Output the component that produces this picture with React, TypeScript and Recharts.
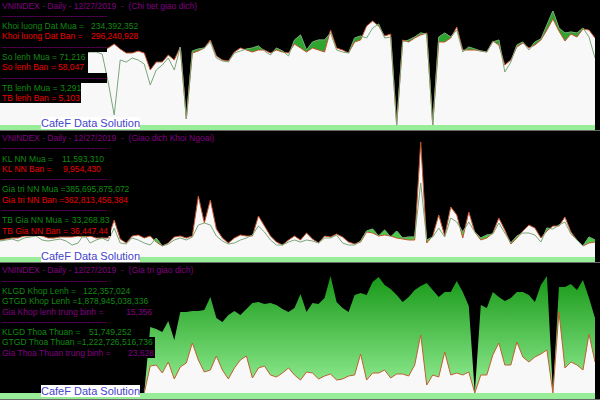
import React from 'react';
import { ComposedChart, Area, Line, XAxis, YAxis } from 'recharts';

// index of trading sessions (x positions)
const sessions = Array.from({ length: 100 }, (_, i) => i);

// Panel 1 - Chi tiet giao dich (relative heights)
const p1Mua = [
  72, 70, 71, 73, 70, 73, 75, 70, 71, 74,
  73, 69, 72, 75, 72, 73, 73, 71, 43, 10,
  65, 63, 67, 65, 61, 40, 55, 60, 67, 55,
  78, 6, 74, 76, 77, 83, 67, 64, 63, 72,
  74, 76, 77, 79, 74, 70, 77, 74, 69, 85,
  90, 75, 83, 85, 85, 92, 75, 73, 72, 87,
  89, 87, 97, 101, 87, 88, 0, 83, 85, 88,
  92, 91, 0, 88, 92, 88, 95, 73, 78, 76,
  74, 73, 83, 85, 53, 63, 80, 83, 75, 83,
  86, 100, 114, 97, 92, 93, 92, 97, 88, 67,
];
const p1Ban = [
  70, 71, 73, 69, 72, 75, 71, 68, 73, 75,
  72, 70, 74, 76, 73, 75, 75, 75, 77, 81,
  76, 72, 72, 74, 72, 55, 63, 63, 70, 65,
  78, 6, 72, 74, 77, 85, 69, 65, 64, 73,
  77, 75, 73, 75, 75, 72, 75, 73, 72, 81,
  77, 73, 77, 75, 73, 95, 77, 75, 72, 83,
  85, 99, 104, 99, 89, 91, 0, 85, 83, 87,
  90, 92, 0, 83, 83, 87, 98, 75, 75, 75,
  74, 73, 84, 80, 60, 65, 78, 82, 77, 80,
  85, 95, 106, 94, 84, 91, 88, 96, 95, 87,
];

// Panel 2 - Giao dich Khoi Ngoai
const p2Mua = [
  16, 17, 18, 16, 19, 20, 21, 17, 16, 17,
  18, 16, 12, 14, 23, 14, 17, 19, 16, 29,
  14, 13, 19, 17, 14, 12, 19, 11, 13, 17,
  19, 17, 20, 32, 34, 32, 21, 16, 13, 14,
  17, 19, 22, 31, 25, 17, 12, 12, 15, 17,
  15, 17, 16, 14, 19, 19, 22, 14, 12, 12,
  16, 26, 28, 21, 27, 20, 26, 19, 20, 20,
  74, 17, 20, 29, 20, 39, 35, 25, 35, 25,
  19, 22, 23, 34, 24, 14, 21, 24, 24, 22,
  15, 29, 28, 32, 35, 23, 17, 11, 20, 17,
];
const p2Ban = [
  17, 18, 19, 19, 21, 21, 22, 21, 19, 19,
  20, 20, 20, 21, 20, 21, 19, 19, 19, 37,
  18, 14, 21, 22, 19, 21, 15, 11, 14, 20,
  21, 19, 21, 61, 34, 57, 28, 19, 14, 19,
  22, 21, 21, 41, 31, 21, 15, 12, 17, 21,
  17, 24, 18, 14, 21, 20, 23, 20, 15, 13,
  15, 25, 24, 21, 22, 21, 19, 18, 17, 17,
  115, 14, 21, 42, 21, 50, 42, 19, 45, 25,
  17, 19, 24, 39, 27, 13, 19, 26, 32, 29,
  19, 26, 31, 31, 40, 25, 17, 11, 14, 15,
];

// Panel 3 - Gia tri giao dich
const p3Khop = [
  null, null, null, null, null, null, null, null, null, null,
  null, null, null, null, null, null, null, null, null, null,
  null, null, null, null, 0, 66, 64, 61, 72, 53,
  81, 81, 82, 82, 83, 96, 75, 71, 78, 82,
  78, 84, 90, 91, 89, 90, 88, 84, 81, 85,
  99, 81, 90, 89, 95, 117, 91, 85, 81, 98,
  100, 98, 111, 116, 108, 104, 98, 91, 96, 103,
  107, 110, 103, 96, 101, 101, 112, 101, 87, 0,
  88, 85, 101, 96, 92, 95, 101, 101, 98, 91,
  108, 117, 0, 106, 106, 109, 103, 113, 95, 75,
];
const p3Thoa = [
  null, null, null, null, null, null, null, null, null, null,
  null, null, null, null, null, null, null, null, null, null,
  null, null, null, null, 0, 27, 28, 20, 31, 14,
  26, 30, 50, 33, 21, 23, 37, 23, 14, 25,
  33, 37, 15, 25, 27, 18, 16, 20, 25, 18,
  13, 21, 20, 14, 17, 19, 13, 14, 17, 18,
  39, 13, 20, 20, 23, 15, 19, 19, 17, 28,
  58, 8, 18, 16, 41, 18, 20, 18, 21, 0,
  18, 18, 38, 50, 28, 28, 51, 36, 31, 36,
  39, 43, 0, 81, 25, 31, 28, 23, 59, 31,
];

// Texts
const dateLabel = 'VNINDEX - Daily - 12/27/2019  -  ';
const titles = ['(Chi tiet giao dich)', '(Giao dich Khoi Ngoai)', '(Gia tri giao dich)'];
const sep = '-------------------------------------';
const p1Labels = ['Khoi luong Dat Mua =', 'Khoi luong Dat Ban =', 'So lenh Mua =', 'So lenh Ban =', 'TB lenh Mua =', 'TB lenh Ban ='];
const p1Values = ['234,392,352', '296,240,928', '71,216', '58,047', '3,291', '5,103'];
const p2Labels = ['KL NN Mua =', 'KL NN Ban =', 'Gia tri NN Mua =', 'Gia tri NN Ban =', 'TB Gia NN Mua =', 'TB Gia NN Ban ='];
const p2Values = ['11,593,310', '9,954,430', '385,695,875,072', '362,813,456,384', '33,268.83', '36,447.44'];
const p3Labels = ['KLGD Khop Lenh =', 'GTGD Khop Lenh =', 'Gia Khop lenh trung binh =', 'KLGD Thoa Thuan =', 'GTGD Thoa Thuan =', 'Gia Thoa Thuan trung binh ='];
const p3Values = ['122,357,024', '1,878,945,038,336', '15,356', '51,749,252', '1,222,726,516,736', '23,628'];
const watermark = 'CafeF Data Solution';

const PURPLE = '#800080';
const GREEN = '#138a13';
const RED = '#ee0000';
const FONT = '"Liberation Sans", Arial, sans-serif';

const d1 = sessions.map((i) => ({ i, mua: p1Mua[i], ban: p1Ban[i] }));
const d2 = sessions.map((i) => ({ i, mua: p2Mua[i], ban: p2Ban[i] }));
const d3 = sessions.map((i) => ({ i, khop: p3Khop[i], thoa: p3Thoa[i] }));

const ROW_H = 10.3;

function Row({ w, color, label, value, vx }: { w: number; color: string; label: string; value?: string; vx?: number }) {
  return (
    <div style={{ position: 'relative', width: w, height: ROW_H, background: '#000' }}>
      <span style={{ position: 'absolute', left: 2, top: 0, color, whiteSpace: 'pre' }}>{label}</span>
      {value ? <span style={{ position: 'absolute', left: vx, top: 0, color, whiteSpace: 'pre' }}>{value}</span> : null}
    </div>
  );
}

function TextBlock({ top, children }: { top: number; children: React.ReactNode }) {
  return (
    <div style={{ position: 'absolute', left: 0, top, fontFamily: FONT, fontSize: 8.5, lineHeight: ROW_H + 'px', zIndex: 2 }}>
      {children}
    </div>
  );
}

function Watermark({ top }: { top: number }) {
  return (
    <div
      style={{
        position: 'absolute', left: 41, top, width: 99, height: 12, background: '#ffffff', color: '#4444cc',
        fontFamily: FONT, fontSize: 11, lineHeight: '12px', textAlign: 'center', zIndex: 3, whiteSpace: 'pre',
      }}
    >
      {watermark}
    </div>
  );
}

function Strip({ top, height }: { top: number; height: number }) {
  return (
    <>
      <div style={{ position: 'absolute', left: 0, top, width: 595, height, background: '#98ee98', zIndex: 1 }} />
      <div style={{ position: 'absolute', left: 0, top: top + height, width: 600, height: 1, background: '#6a6a6a', zIndex: 1 }} />
    </>
  );
}

const margin = { top: 0, right: 0, bottom: 0, left: 0 };

export default function App() {
  return (
    <div style={{ position: 'fixed', left: 0, top: 0, width: 600, height: 400, background: '#000', overflow: 'hidden' }}>
      {/* Panel 1 */}
      <div style={{ position: 'absolute', left: 0, top: 0 }}>
        <ComposedChart width={595} height={125} data={d1} margin={margin}>
          <XAxis dataKey="i" type="number" domain={[0, 99]} hide />
          <YAxis domain={[0, 125]} hide allowDataOverflow />
          <Area dataKey="mua" type="linear" fill="#2ea52e" fillOpacity={1} stroke="#1e8c1e" strokeWidth={1} isAnimationActive={false} activeDot={false} />
          <Area dataKey="ban" type="linear" fill="#f8f8f8" fillOpacity={1} stroke="#c4542c" strokeWidth={1} isAnimationActive={false} activeDot={false} />
          <Line dataKey="mua" type="linear" stroke="#7ba67b" strokeWidth={1} dot={false} activeDot={false} isAnimationActive={false} />
        </ComposedChart>
      </div>
      <Strip top={125} height={5} />
      <TextBlock top={0.5}>
        <div style={{ width: 200, height: ROW_H, background: '#000', color: PURPLE, whiteSpace: 'pre', paddingLeft: 2 }}>{dateLabel + titles[0]}</div>
        <Row w={107} color={PURPLE} label={sep} />
        <Row w={142} color={GREEN} label={p1Labels[0]} value={p1Values[0]} vx={91} />
        <Row w={142} color={RED} label={p1Labels[1]} value={p1Values[1]} vx={91} />
        <Row w={107} color={PURPLE} label={sep} />
        <Row w={88} color={GREEN} label={p1Labels[2] + ' ' + p1Values[2]} />
        <Row w={88} color={RED} label={p1Labels[3] + ' ' + p1Values[3]} />
        <Row w={107} color={PURPLE} label={sep} />
        <Row w={81} color={GREEN} label={p1Labels[4] + ' ' + p1Values[4]} />
        <Row w={81} color={RED} label={p1Labels[5] + ' ' + p1Values[5]} />
      </TextBlock>
      <Watermark top={117} />

      {/* Panel 2 */}
      <div style={{ position: 'absolute', left: 0, top: 131 }}>
        <ComposedChart width={595} height={126} data={d2} margin={margin}>
          <XAxis dataKey="i" type="number" domain={[0, 99]} hide />
          <YAxis domain={[0, 126]} hide allowDataOverflow />
          <Area dataKey="mua" type="linear" fill="#48cc48" fillOpacity={1} stroke="#2fae2f" strokeWidth={1} isAnimationActive={false} activeDot={false} />
          <Area dataKey="ban" type="linear" fill="#f8f8f8" fillOpacity={1} stroke="#c4542c" strokeWidth={1} isAnimationActive={false} activeDot={false} />
          <Line dataKey="mua" type="linear" stroke="#7ba67b" strokeWidth={1} dot={false} activeDot={false} isAnimationActive={false} />
        </ComposedChart>
      </div>
      <Strip top={257} height={5} />
      <TextBlock top={133}>
        <div style={{ width: 215, height: ROW_H, background: '#000', color: PURPLE, whiteSpace: 'pre', paddingLeft: 2 }}>{dateLabel + titles[1]}</div>
        <Row w={107} color={PURPLE} label={sep} />
        <Row w={106} color={GREEN} label={p2Labels[0]} value={p2Values[0]} vx={62} />
        <Row w={106} color={RED} label={p2Labels[1]} value={p2Values[1]} vx={63} />
        <Row w={107} color={PURPLE} label={sep} />
        <Row w={132} color={GREEN} label={p2Labels[2] + p2Values[2]} />
        <Row w={132} color={RED} label={p2Labels[3] + p2Values[3]} />
        <Row w={107} color={PURPLE} label={sep} />
        <Row w={111} color={GREEN} label={p2Labels[4] + ' ' + p2Values[4]} />
        <Row w={111} color={RED} label={p2Labels[5] + ' ' + p2Values[5]} />
      </TextBlock>
      <Watermark top={250} />

      {/* Panel 3 */}
      <div style={{ position: 'absolute', left: 0, top: 264 }}>
        <ComposedChart width={595} height={129} data={d3} margin={margin}>
          <defs>
            <linearGradient id="khopGrad" gradientUnits="userSpaceOnUse" x1="0" y1="0" x2="0" y2="129">
              <stop offset="0%" stopColor="#0a8f0a" />
              <stop offset="100%" stopColor="#96f096" />
            </linearGradient>
          </defs>
          <XAxis dataKey="i" type="number" domain={[0, 99]} hide />
          <YAxis domain={[0, 129]} hide allowDataOverflow />
          <Area dataKey="khop" type="linear" fill="url(#khopGrad)" fillOpacity={1} stroke="none" isAnimationActive={false} activeDot={false} />
          <Area dataKey="thoa" type="linear" fill="#f8f8f8" fillOpacity={1} stroke="#c0602f" strokeWidth={1} isAnimationActive={false} activeDot={false} />
        </ComposedChart>
      </div>
      <Strip top={393} height={6} />
      <TextBlock top={265.4}>
        <div style={{ width: 195, height: ROW_H, background: '#000', color: PURPLE, whiteSpace: 'pre', paddingLeft: 2 }}>{dateLabel + titles[2]}</div>
        <Row w={107} color={PURPLE} label={sep} />
        <Row w={130} color={GREEN} label={p3Labels[0]} value={p3Values[0]} vx={83} />
        <Row w={148} color={GREEN} label={p3Labels[1] + p3Values[1]} />
        <Row w={150} color={PURPLE} label={p3Labels[2]} value={p3Values[2]} vx={126} />
        <Row w={107} color={PURPLE} label={sep} />
        <Row w={135} color={GREEN} label={p3Labels[3]} value={p3Values[3]} vx={89} />
        <Row w={155} color={GREEN} label={p3Labels[4] + p3Values[4]} />
        <Row w={155} color={PURPLE} label={p3Labels[5]} value={p3Values[5]} vx={128} />
      </TextBlock>
      <Watermark top={385} />
    </div>
  );
}
